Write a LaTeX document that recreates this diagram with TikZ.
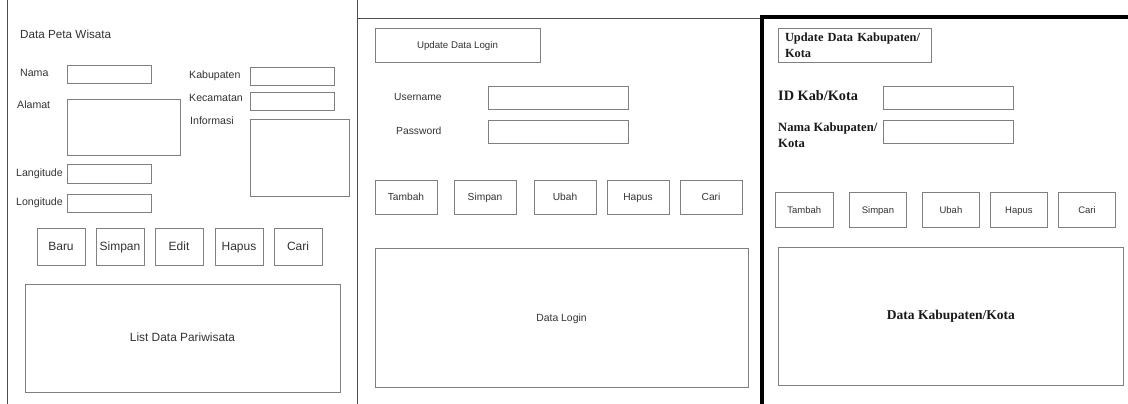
\documentclass[tikz,border=0pt]{standalone}
\usepackage{fontspec}
\setmainfont{Liberation Sans}
\newfontfamily\tnr{Liberation Serif}
\begin{document}
\begin{tikzpicture}[x=1pt,y=-1pt,
  frame/.style={draw=black!70, line width=0.9pt},
  heavy/.style={draw=black, line width=4pt},
  box/.style={draw=black!50, line width=0.9pt, inner sep=0pt, outer sep=0pt,
              anchor=north west, text=black!80, text height=0.72em, text depth=0pt},
  lbl/.style={anchor=west, inner sep=0pt, text=black!80, text height=0.72em, text depth=0pt,
              font=\fontsize{10.6}{12}\selectfont},
  blbl/.style={anchor=west, inner sep=0pt, text=black!90, align=left},
  btnA/.style={box, minimum width=48pt, minimum height=37pt,
               font=\fontsize{12}{13}\selectfont},
  btnB/.style={box, minimum width=62pt, minimum height=34pt,
               font=\fontsize{10.2}{12}\selectfont},
  btnC/.style={box, minimum width=57.3pt, minimum height=35pt,
               font=\fontsize{9.5}{11}\selectfont}]
\useasboundingbox (0,0) rectangle (1128,404);
\fill[white] (0,0) rectangle (1128,404);

% ---- panel separators ----
\coordinate (pa) at (7.5,0);   \coordinate (pb) at (7.5,404);
\coordinate (pc) at (357,0);   \coordinate (pd) at (357,404);
\coordinate (pe) at (357,18);  \coordinate (pf) at (761.5,18);
\draw[frame] (pa) -- (pb);
\draw[frame] (pc) -- (pd);
\draw[frame] (pe) -- (pf);
\coordinate (qa) at (761.5,404); \coordinate (qb) at (761.5,17.2);
\coordinate (qc) at (1128,17.2);
\draw[heavy] (qa) -- (qb) -- (qc);

% ---- Data Peta Wisata ----
\node[lbl, font=\fontsize{11.7}{13}\selectfont] (title1) at (20,35) {Data Peta Wisata};
\node[lbl] (lnama) at (20,73) {Nama};
\node[box, minimum width=84pt, minimum height=18pt] (fnama) at (67,65) {};
\node[lbl] (lalamat) at (17,105) {Alamat};
\node[box, minimum width=113pt, minimum height=56pt] (falamat) at (67,99) {};
\node[lbl] (llang) at (16,173) {Langitude};
\node[box, minimum width=84pt, minimum height=19pt] (flang) at (67,164) {};
\node[lbl] (llong) at (16,202) {Longitude};
\node[box, minimum width=84pt, minimum height=18pt] (flong) at (67,194) {};
\node[lbl] (lkab) at (189,75) {Kabupaten};
\node[box, minimum width=84pt, minimum height=18pt] (fkab) at (250,67) {};
\node[lbl] (lkec) at (189,98) {Kecamatan};
\node[box, minimum width=84pt, minimum height=18pt] (fkec) at (250,92) {};
\node[lbl] (linfo) at (190,121) {Informasi};
\node[box, minimum width=99pt, minimum height=77pt] (finfo) at (250,119) {};

\node[btnA] (baru)   at (37,228)  {Baru};
\node[btnA] (simpa)  at (96,228)  {Simpan};
\node[btnA] (edit)   at (155,228) {Edit};
\node[btnA] (hapusa) at (215,228) {Hapus};
\node[btnA] (caria)  at (274,228) {Cari};

\node[box, minimum width=315pt, minimum height=108pt,
      font=\fontsize{11.9}{13}\selectfont] (list) at (25,284) {List Data Pariwisata};

% ---- Update Data Login ----
\node[box, minimum width=165pt, minimum height=34pt,
      font=\fontsize{9.7}{11}\selectfont] (upd) at (375,28) {Update Data Login};
\node[lbl, font=\fontsize{10.3}{12}\selectfont] (luser) at (394,97) {Username};
\node[box, minimum width=140pt, minimum height=23pt] (fuser) at (488,86) {};
\node[lbl, font=\fontsize{10.3}{12}\selectfont] (lpass) at (396,131) {Password};
\node[box, minimum width=140pt, minimum height=23pt] (fpass) at (488,120) {};

\node[btnB] (tambahb) at (375,180) {Tambah};
\node[btnB] (simpb)   at (454,180) {Simpan};
\node[btnB] (ubahb)   at (534,180) {Ubah};
\node[btnB] (hapusb)  at (607,180) {Hapus};
\node[btnB] (carib)   at (680,180) {Cari};

\node[box, minimum width=373pt, minimum height=139pt,
      font=\fontsize{10.4}{12}\selectfont] (login) at (375,248) {Data Login};

% ---- Update Data Kabupaten/Kota ----
\node[box, text width=139pt, inner xsep=7pt, minimum height=34.7pt, align=left,
      text height=, text depth=, text=black!90,
      font=\tnr\bfseries\fontsize{12.4}{16}\selectfont]
      (updk) at (778,28) {Update Data Kabupaten/\\Kota};
\node[blbl, font=\tnr\bfseries\fontsize{14.3}{16}\selectfont] (lid) at (778,96) {ID Kab/Kota};
\node[box, minimum width=130pt, minimum height=23pt] (fid) at (883,86) {};
\node[blbl, font=\tnr\bfseries\fontsize{12.6}{15.7}\selectfont] (lnk) at (778,135)
      {Nama Kabupaten/\\Kota};
\node[box, minimum width=130pt, minimum height=23pt] (fnk) at (883,120) {};

\node[btnC] (tambahc) at (775.7,192)  {Tambah};
\node[btnC] (simpc)   at (849.3,192)  {Simpan};
\node[btnC] (ubahc)   at (922.3,192)  {Ubah};
\node[btnC] (hapusc)  at (990.3,192)  {Hapus};
\node[btnC] (caric)   at (1058.3,192) {Cari};

\node[box, minimum width=345.7pt, minimum height=138.7pt, text=black!90,
      font=\tnr\bfseries\fontsize{13.5}{15}\selectfont] (kab) at (778,247) {Data Kabupaten/Kota};
\end{tikzpicture}
\end{document}
